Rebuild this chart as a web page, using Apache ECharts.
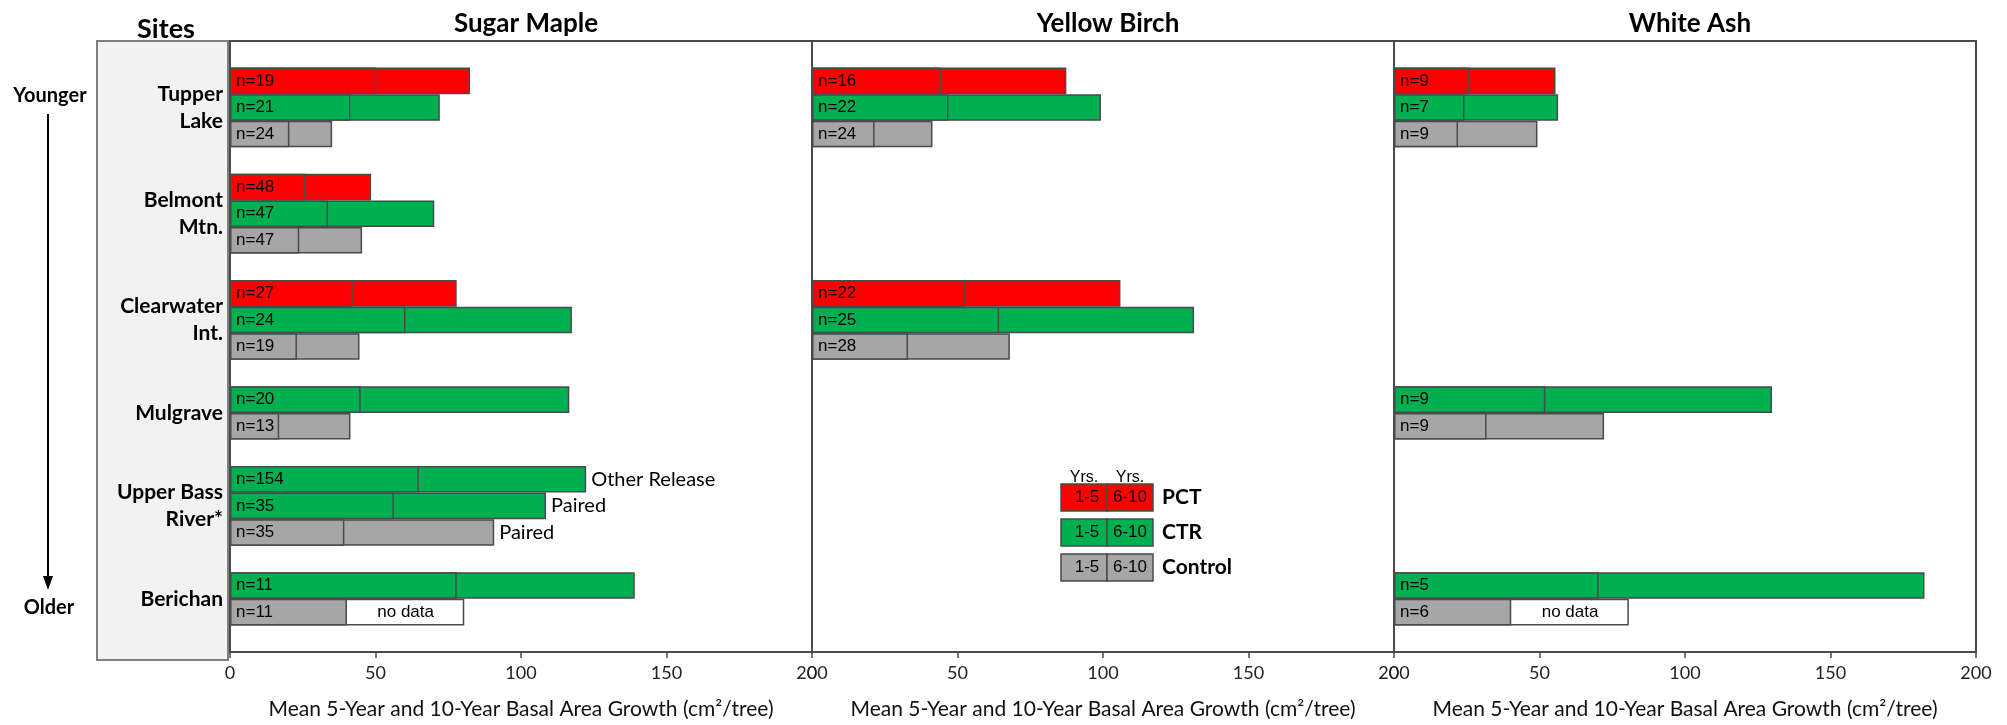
<!DOCTYPE html>
<html>
<head>
    <meta charset="UTF-8">
    <title>Basal area growth by site</title>
    <style>
        body { margin: 0; background: #fff; }
        #chart { width: 2007px; height: 725px; }
    </style>
    <script src="https://cdn.jsdelivr.net/npm/echarts@6/dist/echarts.min.js"></script>
</head>
<body>
<div id="chart"></div>
<script>
    // rows of the site axis, top to bottom ('' = spacer row)
    var sites = ['Tupper\nLake', 'Belmont\nMtn.', 'Clearwater\nInt.', 'Mulgrave', 'Upper Bass\nRiver*', 'Berichan'];
    var rowSite = [null, 0, 0, 0, null, 1, 1, 1, null, 2, 2, 2, null, 3, 3, null, 4, 4, 4, null, 5, 5, null];
    var rowTreat = ['', 'PCT', 'CTR', 'Control', '', 'PCT', 'CTR', 'Control', '', 'PCT', 'CTR', 'Control', '',
        'CTR', 'Control', '', 'CTR', 'CTR', 'Control', '', 'CTR', 'Control', ''];

    var species = ['Sugar Maple', 'Yellow Birch', 'White Ash'];

    // mean growth after 5 years and after 10 years (cm2/tree)
    var sugarMaple5 = [null, 50.3, 41.4, 20.4, null, 25.8, 33.7, 23.8, null, 42.2, 60.3, 23.0, null, 44.9, 16.9, null, 64.9, 56.3, 39.3, null, 77.9, 40.2, null];
    var sugarMaple10 = [null, 82.5, 72.1, 35.1, null, 48.5, 70.2, 45.4, null, 77.9, 117.5, 44.5, null, 116.6, 41.4, null, 122.4, 108.6, 90.8, null, 139.1, 80.5, null];
    var sugarMapleN = [null, 19, 21, 24, null, 48, 47, 47, null, 27, 24, 19, null, 20, 13, null, 154, 35, 35, null, 11, 11, null];
    var sugarMapleNote = ['', '', '', '', '', '', '', '', '', '', '', '', '', '', '', '', 'Other Release', 'Paired', 'Paired', '', '', 'no data', ''];

    var yellowBirch5 = [null, 44.4, 46.9, 21.5, null, null, null, null, null, 52.7, 64.3, 33.0, null, null, null, null, null, null, null, null, null, null, null];
    var yellowBirch10 = [null, 87.4, 99.3, 41.4, null, null, null, null, null, 106.0, 131.3, 68.0, null, null, null, null, null, null, null, null, null, null, null];
    var yellowBirchN = [null, 16, 22, 24, null, null, null, null, null, 22, 25, 28, null, null, null, null, null, null, null, null, null, null, null];
    var yellowBirchNote = ['', '', '', '', '', '', '', '', '', '', '', '', '', '', '', '', '', '', '', '', '', '', ''];

    var whiteAsh5 = [null, 25.9, 24.2, 22.0, null, null, null, null, null, null, null, null, null, 52.0, 31.8, null, null, null, null, null, 70.3, 40.3, null];
    var whiteAsh10 = [null, 55.5, 56.4, 49.3, null, null, null, null, null, null, null, null, null, 129.9, 72.2, null, null, null, null, null, 182.3, 80.7, null];
    var whiteAshN = [null, 9, 7, 9, null, null, null, null, null, null, null, null, null, 9, 9, null, null, null, null, null, 5, 6, null];
    var whiteAshNote = ['', '', '', '', '', '', '', '', '', '', '', '', '', '', '', '', '', '', '', '', '', 'no data', ''];

    var xTicks = [0, 50, 100, 150, 200];
    var xTitle = 'Mean 5-Year and 10-Year Basal Area Growth (cm\u00b2/tree)';

    var treatColors = {PCT: '#FF0000', CTR: '#00B050', Control: '#A6A6A6'};
    var legendRows = ['PCT', 'CTR', 'Control'];

    var yCats = rowTreat.map(function (t, i) { return i + ' ' + t; });
    var five = [sugarMaple5, yellowBirch5, whiteAsh5];
    var ten = [sugarMaple10, yellowBirch10, whiteAsh10];
    var counts = [sugarMapleN, yellowBirchN, whiteAshN];
    var notes = [sugarMapleNote, yellowBirchNote, whiteAshNote];

    var gridLeft = [230, 812, 1394];
    var gridWidth = 582;
    var edge = '#4a4a4a';

    var chart = echarts.init(document.getElementById('chart'), null, {renderer: 'canvas'});

    var grids = [], xAxes = [], yAxes = [], series = [], titles = [];
    for (var k = 0; k < 3; k++) {
        grids.push({
            left: gridLeft[k], top: 41, width: gridWidth, height: 619,
            show: true, borderColor: edge, borderWidth: 2, backgroundColor: 'transparent'
        });
        xAxes.push({
            gridIndex: k, type: 'value', min: xTicks[0], max: xTicks[xTicks.length - 1],
            interval: xTicks[1] - xTicks[0],
            splitLine: {show: false},
            axisLine: {show: true, lineStyle: {color: edge, width: 2}},
            axisTick: {show: true, length: 6, lineStyle: {color: edge, width: 1.5}},
            axisLabel: {fontSize: 18, color: '#222', fontFamily: 'Lato', margin: 12},
            name: xTitle, nameLocation: 'middle', nameGap: 47,
            nameTextStyle: {fontSize: 21, color: '#111', fontFamily: 'Lato'}
        });
        yAxes.push({
            gridIndex: k, type: 'category', inverse: true, data: yCats,
            axisLine: {show: false}, axisTick: {show: false}, axisLabel: {show: false},
            splitLine: {show: false}
        });
        titles.push({
            text: species[k], left: gridLeft[k] + gridWidth / 2, top: 6, textAlign: 'center',
            textStyle: {fontSize: 26, fontWeight: 'bold', fontFamily: 'Lato', color: '#000'}
        });

        var tenData = ten[k].map(function (v, i) {
            if (v == null) return '-';
            var note = notes[k][i];
            var noData = note === 'no data';
            var item = {
                value: v,
                itemStyle: {color: noData ? '#FFFFFF' : treatColors[rowTreat[i]]}
            };
            if (noData) {
                var mid = (five[k][i] + v) / 2 / v * 100;
                item.label = {
                    show: true, position: [mid + '%', '50%'], align: 'center', verticalAlign: 'middle',
                    formatter: note, fontSize: 17, fontFamily: 'Liberation Sans', color: '#000'
                };
            } else if (note) {
                item.label = {
                    show: true, position: 'right', distance: 5, formatter: note,
                    fontSize: 20, fontFamily: 'Lato', color: '#000'
                };
            }
            return item;
        });
        var fiveData = five[k].map(function (v, i) {
            if (v == null) return '-';
            return {
                value: v,
                itemStyle: {color: treatColors[rowTreat[i]]},
                label: {
                    show: true, position: 'insideLeft', distance: 6, formatter: 'n=' + counts[k][i],
                    fontSize: 17, fontFamily: 'Liberation Sans', color: '#000'
                }
            };
        });
        series.push({
            type: 'bar', xAxisIndex: k, yAxisIndex: k, data: tenData,
            barWidth: '100%', silent: true, animation: false,
            itemStyle: {borderColor: edge, borderWidth: 1.5}
        });
        series.push({
            type: 'bar', xAxisIndex: k, yAxisIndex: k, data: fiveData,
            barWidth: '100%', barGap: '-100%', silent: true, animation: false,
            itemStyle: {borderColor: edge, borderWidth: 1.5}
        });
    }

    // left-hand decorations: sites box, age arrow
    var graphics = [
        {type: 'rect', shape: {x: 97, y: 41, width: 131, height: 619},
            style: {fill: '#F2F2F2', stroke: '#7F7F7F', lineWidth: 2}, z: 1},
        {type: 'text', x: 166, y: 29, style: {text: 'Sites', align: 'center', verticalAlign: 'middle',
            fontSize: 27, fontWeight: 'bold', fontFamily: 'Lato', fill: '#000'}},
        {type: 'text', x: 50, y: 96, style: {text: 'Younger', align: 'center', verticalAlign: 'middle',
            fontSize: 20, fontWeight: 'bold', fontFamily: 'Lato', fill: '#000'}},
        {type: 'text', x: 49, y: 608, style: {text: 'Older', align: 'center', verticalAlign: 'middle',
            fontSize: 20, fontWeight: 'bold', fontFamily: 'Lato', fill: '#000'}},
        {type: 'line', shape: {x1: 48, y1: 114, x2: 48, y2: 578}, style: {stroke: '#000', lineWidth: 2}},
        {type: 'polygon', shape: {points: [[43, 576], [53, 576], [48, 590]]}, style: {fill: '#000'}}
    ];

    // legend box inside Yellow Birch panel
    var lgX = 1061, lgY = 484, lgW = 46, lgH = 27, lgStep = 35;
    graphics.push({type: 'text', x: lgX + 23, y: lgY + 2, z: 5, style: {text: 'Yrs.', align: 'center',
        verticalAlign: 'bottom', fontSize: 16, fontFamily: 'Liberation Sans', fill: '#000'}});
    graphics.push({type: 'text', x: lgX + lgW + 23, y: lgY + 2, z: 5, style: {text: 'Yrs.', align: 'center',
        verticalAlign: 'bottom', fontSize: 16, fontFamily: 'Liberation Sans', fill: '#000'}});
    legendRows.forEach(function (name, i) {
        var y = lgY + i * lgStep;
        graphics.push({type: 'rect', z: 10, shape: {x: lgX, y: y, width: lgW, height: lgH},
            style: {fill: treatColors[name], stroke: edge, lineWidth: 1.5}});
        graphics.push({type: 'rect', z: 10, shape: {x: lgX + lgW, y: y, width: lgW, height: lgH},
            style: {fill: treatColors[name], stroke: edge, lineWidth: 1.5}});
        graphics.push({type: 'text', z: 11, x: lgX + 26, y: y + lgH / 2, style: {text: '1-5', align: 'center',
            verticalAlign: 'middle', fontSize: 17, fontFamily: 'Liberation Sans', fill: '#000'}});
        graphics.push({type: 'text', z: 11, x: lgX + lgW + 23, y: y + lgH / 2, style: {text: '6-10', align: 'center',
            verticalAlign: 'middle', fontSize: 17, fontFamily: 'Liberation Sans', fill: '#000'}});
        graphics.push({type: 'text', z: 11, x: lgX + 2 * lgW + 9, y: y + lgH / 2, style: {text: name,
            verticalAlign: 'middle', fontSize: 21, fontWeight: 'bold', fontFamily: 'Lato', fill: '#000'}});
    });

    chart.setOption({
        animation: false,
        title: titles,
        grid: grids,
        xAxis: xAxes,
        yAxis: yAxes,
        series: series,
        graphic: graphics
    });

    // site names centred on their group of rows, placed with the axis scale
    sites.forEach(function (name, s) {
        var idx = [];
        rowSite.forEach(function (v, i) { if (v === s) idx.push(i); });
        var y0 = chart.convertToPixel({yAxisIndex: 0}, yCats[idx[0]]);
        var y1 = chart.convertToPixel({yAxisIndex: 0}, yCats[idx[idx.length - 1]]);
        graphics.push({type: 'text', x: 223, y: (y0 + y1) / 2, z: 5, style: {text: name, align: 'right',
            verticalAlign: 'middle', fontSize: 21, fontWeight: 'bold', fontFamily: 'Lato', lineHeight: 27, fill: '#000'}});
    });
    chart.setOption({graphic: graphics});
</script>
</body>
</html>
